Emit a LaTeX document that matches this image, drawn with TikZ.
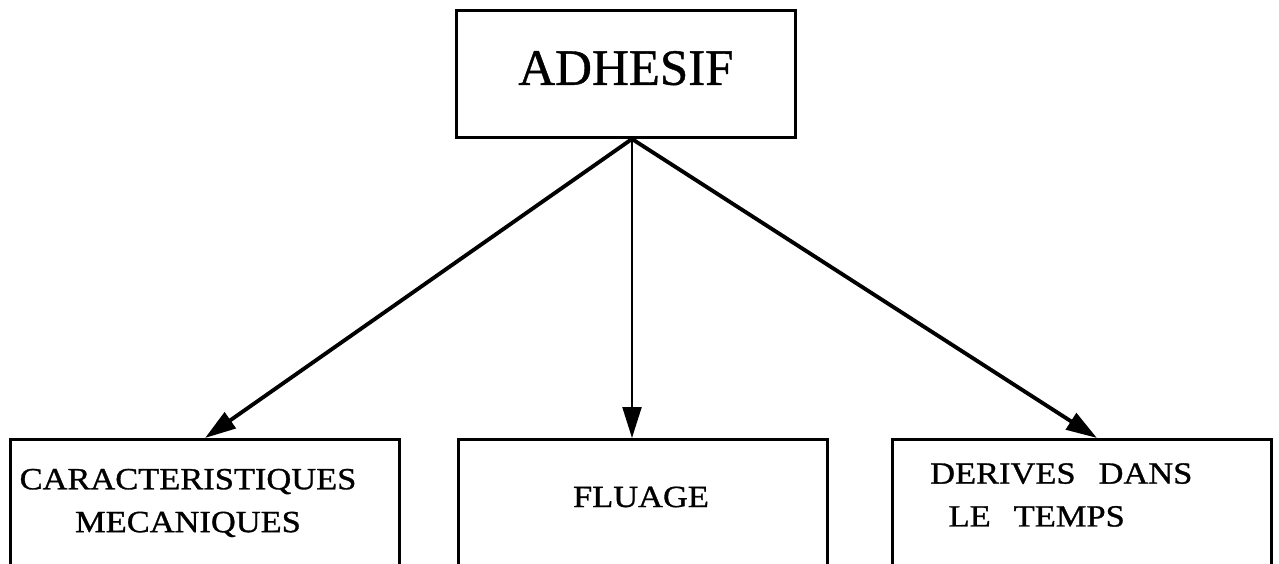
\documentclass[tikz,border=0pt]{standalone}
\usepackage{fontspec}
\setmainfont{Liberation Serif}
\newfontfamily\headfont[FakeBold=0.8]{Liberation Serif}
\newfontfamily\boxfont[FakeStretch=1.12,FakeBold=1]{Liberation Serif}
\usetikzlibrary{calc,arrows.meta}
\tikzset{box/.style={draw, line width=1.7pt, minimum height=3.4cm, anchor=north},
	head/.style={draw, line width=1.7pt, minimum width=6.78cm, minimum height=2.54cm,
		text height=19pt, text depth=6.7pt, font=\headfont\fontsize{29}{34}\selectfont},
	txt/.style={align=center, font=\boxfont\fontsize{17.5}{24.4}\selectfont},
	arr/.style={-{Triangle[length=0.62cm,width=0.38cm]}, line width=2.2pt}}

\begin{document}
\begin{tikzpicture}[x=0.02cm, y=-0.02cm]
		\useasboundingbox (0,0) rectangle (1279,564);
		\clip (0,0) rectangle (1279,564);
		% top box and the three boxes below, cut at the bottom edge
		\node[head] (adhesif) at (626,74) {ADHESIF};
		\node[box, minimum width=7.8cm] (meca) at (205,438) {};
		\node[box, minimum width=7.4cm] (fluage) at (643,438) {};
		\node[box, minimum width=7.6cm] (derives) at (1082,438) {};
		
		\node[txt] (mecatxt) at (188,503) {CARACTERISTIQUES\\MECANIQUES};
		\node[txt] (fluagetxt) at (641,497) {FLUAGE};
		\node[txt, align=left, anchor=west] (derivestxt) at (924,495)
			{DERIVES\hspace{0.75em}DANS\\\hspace{0.6em}LE\hspace{0.75em}TEMPS};
		
		\coordinate (fork) at ($(adhesif.south)+(6,0)$);
		\draw[arr] (fork) -- (meca.north);
		\draw[arr, line width=1.3pt] (fork) -- (fork |- fluage.north);
		\draw[arr] (fork) -- ($(derives.north)+(15,0)$);
\end{tikzpicture}
\end{document}
